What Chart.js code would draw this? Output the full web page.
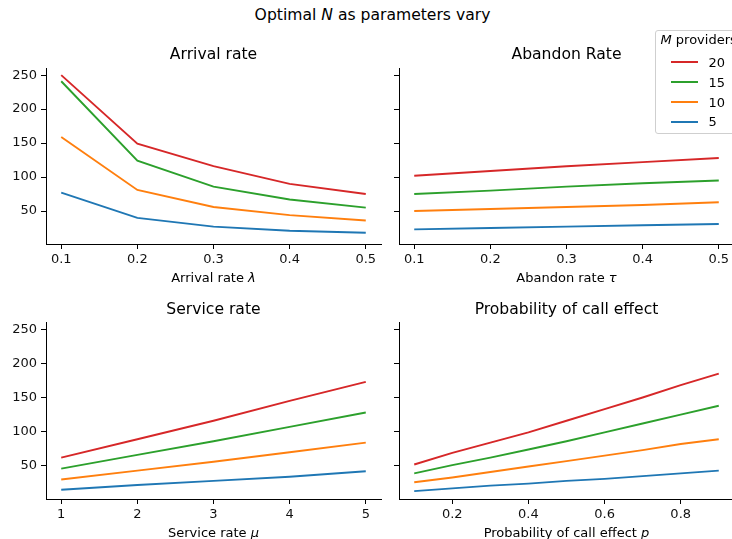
<!DOCTYPE html>
<html><head><meta charset="utf-8">
<script src="https://cdn.jsdelivr.net/npm/chart.js@4.4.1/dist/chart.umd.min.js"></script>
<style>
html,body{margin:0;padding:0;width:732px;height:539px;overflow:hidden;background:#fff;font-family:"DejaVu Sans",sans-serif;position:relative;}
.t{position:absolute;white-space:nowrap;line-height:1.164;color:#000;transform:translateX(-50%);}
canvas{position:absolute;}
#legend{position:absolute;left:654.5px;top:30px;width:100px;height:104px;border:1px solid #cfcfcf;border-radius:3px;background:rgba(255,255,255,0.8);box-sizing:border-box;}
.lt{position:absolute;white-space:nowrap;line-height:1.164;font-size:13px;color:#000;}
.ls{position:absolute;height:2px;width:27px;}
</style></head>
<body>
<script>
// ---------------- data ----------------
const providers = ["20", "15", "10", "5"];

const arrivalX = [0.1, 0.2, 0.3, 0.4, 0.5];
const arrivalM20 = [250, 149, 116, 90, 75];
const arrivalM15 = [241, 124, 86, 67, 55];
const arrivalM10 = [159, 81, 56, 44, 36];
const arrivalM5  = [77, 40, 27, 21, 18];

const abandonX = [0.1, 0.2, 0.3, 0.4, 0.5];
const abandonM20 = [102, 109, 116, 122, 128];
const abandonM15 = [75, 80, 86, 91, 95];
const abandonM10 = [50, 53, 56, 59, 63];
const abandonM5  = [23, 25, 27, 29, 31];

const serviceX = [1, 2, 3, 4, 5];
const serviceM20 = [62, 89, 116, 145, 173];
const serviceM15 = [46, 66, 86, 107, 128];
const serviceM10 = [30, 43, 56, 70, 84];
const serviceM5  = [15, 22, 28, 34, 42];

const probX = [0.1, 0.2, 0.3, 0.4, 0.5, 0.6, 0.7, 0.8, 0.9];
const probM20 = [52, 69, 84, 99, 116, 133, 150, 168, 185];
const probM15 = [39, 51, 62, 74, 86, 99, 112, 125, 138];
const probM10 = [26, 33, 41, 49, 57, 65, 73, 82, 89];
const probM5  = [13, 17, 21, 24, 28, 31, 35, 39, 43];

const yTicks = [50, 100, 150, 200, 250];
const yTickLabels = ["50", "100", "150", "200", "250"];
const arrivalTicks = [0.1, 0.2, 0.3, 0.4, 0.5];
const arrivalTickLabels = ["0.1", "0.2", "0.3", "0.4", "0.5"];
const serviceTicks = [1, 2, 3, 4, 5];
const serviceTickLabels = ["1", "2", "3", "4", "5"];
const probTicks = [0.2, 0.4, 0.6, 0.8];
const probTickLabels = ["0.2", "0.4", "0.6", "0.8"];

// ---------------- styles ----------------
const COLORS = ["#d62728", "#2ca02c", "#ff7f0e", "#1f77b4"];
const TICK_FONT = { family: "DejaVu Sans", size: 13 };
const INK = "#111";
const Y_MIN = 1.5, Y_MAX = 260.5;

function addText(html, cx, top, size, extra) {
  const d = document.createElement('div');
  d.className = 't';
  d.innerHTML = html;
  d.style.left = cx + 'px';
  d.style.top = top + 'px';
  d.style.fontSize = size + 'px';
  if (extra) Object.assign(d.style, extra);
  document.body.appendChild(d);
}

function axesChart(cfg) {
  const PL = 50, PT = 14, PR = 14, PB = 44;
  const w = cfg.right - cfg.left, h = cfg.bottom - cfg.top;
  const c = document.createElement('canvas');
  c.width = PL + w + PR; c.height = PT + h + PB;
  c.style.left = (cfg.left - PL) + 'px';
  c.style.top = (cfg.top - PT) + 'px';
  document.body.appendChild(c);
  const order = [3, 2, 1, 0];
  const chart = new Chart(c, {
    type: 'line',
    data: {
      datasets: order.map(i => ({
        label: providers[i],
        data: cfg.xs.map((x, j) => ({ x: x, y: cfg.series[i][j] })),
        borderColor: COLORS[i],
        borderWidth: 1.9,
        pointRadius: 0,
        fill: false,
        tension: 0
      }))
    },
    options: {
      responsive: false, animation: false, events: [],
      layout: { padding: { left: 0, top: PT, right: PR, bottom: 0 } },
      plugins: { legend: { display: false }, tooltip: { enabled: false }, title: { display: false } },
      scales: {
        x: {
          type: 'linear', min: cfg.xmin, max: cfg.xmax,
          afterFit: s => { s.height = PB; },
          afterBuildTicks: s => { s.ticks = cfg.xticks.map(v => ({ value: v })); },
          ticks: {
            callback: v => { const k = cfg.xticks.findIndex(t => Math.abs(t - v) < 1e-9); return k >= 0 ? cfg.xlabels[k] : ''; },
            font: TICK_FONT, color: INK, padding: 3, maxRotation: 0, autoSkip: false
          },
          grid: { display: true, drawOnChartArea: false, drawTicks: true, tickLength: 5, color: '#000', lineWidth: 1 },
          border: { display: true, color: '#000', width: 1 }
        },
        y: {
          type: 'linear', min: Y_MIN, max: Y_MAX,
          afterFit: s => { s.width = PL; },
          afterBuildTicks: s => { s.ticks = yTicks.map(v => ({ value: v })); },
          ticks: {
            callback: v => { if (!cfg.ylabels) return ''; const k = yTicks.indexOf(v); return k >= 0 ? yTickLabels[k] : ''; },
            font: TICK_FONT, color: INK, padding: 4, autoSkip: false
          },
          grid: { display: true, drawOnChartArea: false, drawTicks: true, tickLength: 5, color: '#000', lineWidth: 1 },
          border: { display: true, color: '#000', width: 1 }
        }
      }
    }
  });
  const a = chart.chartArea;
  c.style.left = (cfg.left - a.left) + 'px';
  c.style.top = (cfg.top - a.top) + 'px';
  return chart;
}

// layout boxes (plot areas)
const TL = { left: 46, right: 381, top: 68, bottom: 244 };
const TR = { left: 399, right: 734, top: 68, bottom: 244 };
const BL = { left: 46, right: 381, top: 322, bottom: 499 };
const BR = { left: 399, right: 734, top: 322, bottom: 499 };

axesChart(Object.assign({}, TL, { xs: arrivalX, series: [arrivalM20, arrivalM15, arrivalM10, arrivalM5],
  xmin: 0.08, xmax: 0.52, xticks: arrivalTicks, xlabels: arrivalTickLabels, ylabels: true }));
axesChart(Object.assign({}, TR, { xs: abandonX, series: [abandonM20, abandonM15, abandonM10, abandonM5],
  xmin: 0.08, xmax: 0.52, xticks: arrivalTicks, xlabels: arrivalTickLabels, ylabels: false }));
axesChart(Object.assign({}, BL, { xs: serviceX, series: [serviceM20, serviceM15, serviceM10, serviceM5],
  xmin: 0.8, xmax: 5.2, xticks: serviceTicks, xlabels: serviceTickLabels, ylabels: true }));
axesChart(Object.assign({}, BR, { xs: probX, series: [probM20, probM15, probM10, probM5],
  xmin: 0.06, xmax: 0.94, xticks: probTicks, xlabels: probTickLabels, ylabels: false }));

// titles
addText('Optimal <i>N</i> as parameters vary', 372.5, 5.5, 15.6);
addText('Arrival rate', 213.5, 45, 15.6);
addText('Abandon Rate', 566.5, 45, 15.6);
addText('Service rate', 213.5, 300, 15.6);
addText('Probability of call effect', 566.5, 300, 15.6);
addText('Arrival rate <i>λ</i>', 213.5, 270.4, 13);
addText('Abandon rate <i>τ</i>', 566.5, 270.4, 13);
addText('Service rate <i>μ</i>', 213.5, 524.5, 13);
addText('Probability of call effect <i>p</i>', 566.5, 524.5, 13);

// legend (absolute centres of each row, converted to box-relative offsets)
const LEG_TOP = 31;            // inner top of legend box
const rowCentres = [62.3, 82.0, 101.7, 121.5];
const lg = document.createElement('div');
lg.id = 'legend';
document.body.appendChild(lg);
const lt = document.createElement('div');
lt.className = 'lt';
lt.innerHTML = '<i>M</i> providers';
lt.style.left = '5px'; lt.style.top = (44 - 12.06 - LEG_TOP) + 'px';
lg.appendChild(lt);
providers.forEach((p, i) => {
  const cy = rowCentres[i];
  const s = document.createElement('div');
  s.className = 'ls';
  s.style.left = '15.5px'; s.style.top = (cy - 1 - LEG_TOP) + 'px';
  s.style.background = COLORS[i];
  lg.appendChild(s);
  const t = document.createElement('div');
  t.className = 'lt';
  t.textContent = p;
  t.style.left = '53px'; t.style.top = (cy + 5 - 12.06 - LEG_TOP) + 'px';
  lg.appendChild(t);
});
</script>
</body></html>
